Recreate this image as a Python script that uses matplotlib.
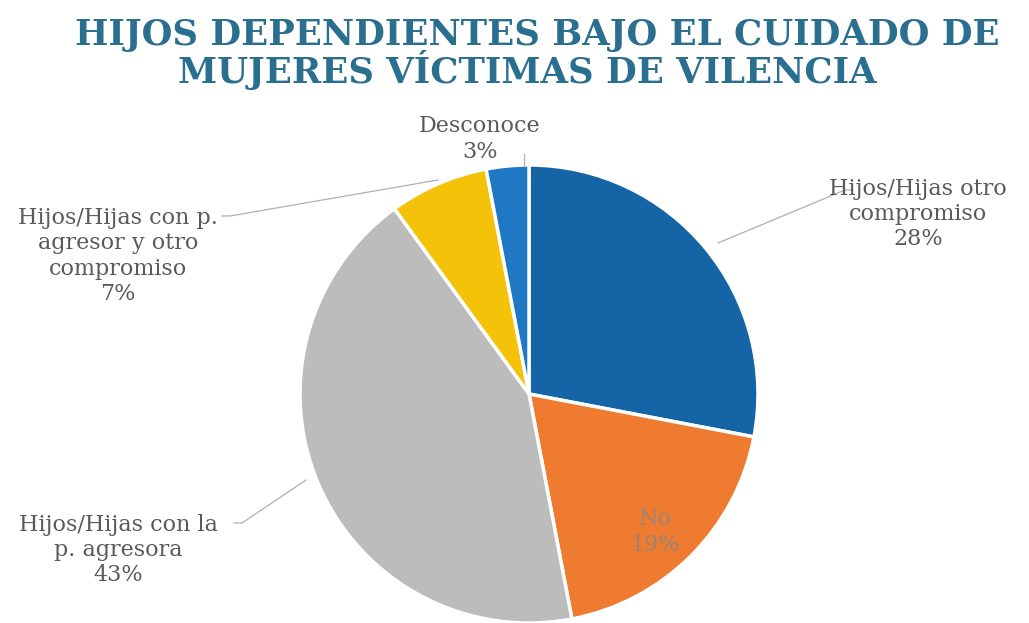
import matplotlib
matplotlib.use("Agg")
import matplotlib.pyplot as plt

# data
labels = ["Hijos/Hijas otro\ncompromiso", "No", "Hijos/Hijas con la\np. agresora",
          "Hijos/Hijas con p.\nagresor y otro\ncompromiso", "Desconoce"]
values = [28, 19, 43, 7, 3]
colors = ["#1565a6", "#ef7b30", "#bcbcbc", "#f5c20a", "#1f78c4"]

W, H = 1029, 623
fig = plt.figure(figsize=(W / 100, H / 100), dpi=100)
fig.patch.set_facecolor("white")

# pie axes: centre ~(529, 394) px, radius ~229 px
r = 229
cx, cy = 529, 394
ax = fig.add_axes([(cx - r) / W, (H - cy - r) / H, 2 * r / W, 2 * r / H])
ax.pie(values, colors=colors, startangle=90, counterclock=False,
       wedgeprops=dict(edgecolor="white", linewidth=2.5))
ax.set_xlim(-1, 1)
ax.set_ylim(-1, 1)
ax.set_aspect("equal")

# overlay in pixel coords for title, labels and leader lines
ov = fig.add_axes([0, 0, 1, 1], facecolor="none")
ov.set_xlim(0, W)
ov.set_ylim(H, 0)
ov.axis("off")

ov.text(537, 35, "HIJOS DEPENDIENTES BAJO EL CUIDADO DE",
        ha="center", va="center", fontsize=25.5, fontweight="bold",
        family="DejaVu Serif", color="#2a6f8f")
ov.text(527, 70, "MUJERES VÍCTIMAS DE VILENCIA",
        ha="center", va="center", fontsize=25.5, fontweight="bold",
        family="DejaVu Serif", color="#2a6f8f")

lab_kw = dict(ha="center", va="center", fontsize=16, family="DejaVu Serif",
              color="#5a5a5a", linespacing=1.2)
pct = [f"{v}%" for v in values]

ov.text(918, 214, f"{labels[0]}\n{pct[0]}", **lab_kw)
ov.text(655, 532, f"{labels[1]}\n{pct[1]}", **{**lab_kw, "color": "#9a8478"})
ov.text(118, 550, f"{labels[2]}\n{pct[2]}", **lab_kw)
ov.text(118, 256, f"{labels[3]}\n{pct[3]}", **lab_kw)
ov.text(480, 139, f"{labels[4]}\n{pct[4]}", **lab_kw)

line_kw = dict(color="#b0b0b0", lw=0.9)
ov.plot([718, 845, 853], [243, 190, 190], **line_kw)
ov.plot([222, 230, 438], [216, 216, 180], **line_kw)
ov.plot([234, 242, 306], [523, 523, 480], **line_kw)
ov.plot([524, 524], [154, 166], **line_kw)

fig.savefig("out.png", dpi=100, facecolor="white")
